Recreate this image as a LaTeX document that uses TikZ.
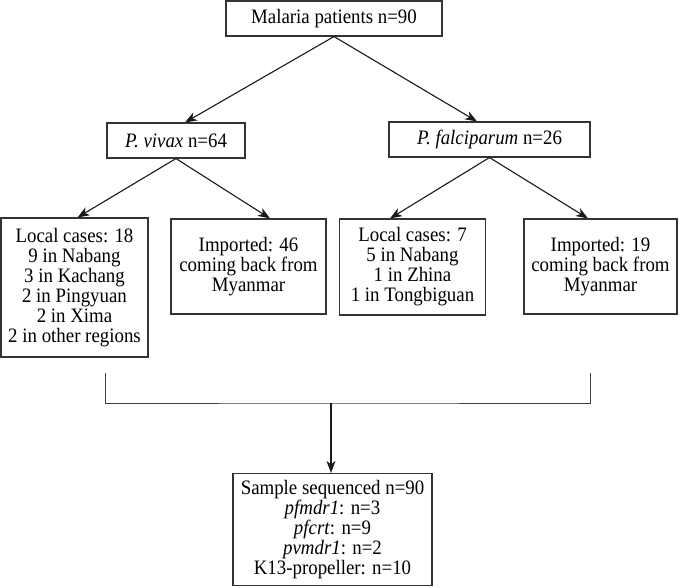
\documentclass[tikz,border=0pt]{standalone}
\usepackage{fontspec}
\setmainfont{Liberation Serif}
\newfontfamily\flowfont{Liberation Serif}[FakeStretch=0.92]
\usetikzlibrary{positioning,arrows.meta}

\begin{document}
\begin{tikzpicture}[
    x=1pt, y=-1pt,
    font=\flowfont\fontsize{20.5}{20}\selectfont,
    >={Stealth[length=12pt,width=9pt,inset=3.5pt]},
    flowbox/.style={
        draw=black!80,
        fill=white,
        align=center,
        inner sep=2pt,
        line width=1.1pt
    },
    flowarrow/.style={->, line width=1.1pt, draw=black!90},
    joinline/.style={line width=1pt, draw=black!75}
]

    \useasboundingbox (0,0) rectangle (680,587);

    \node[flowbox, minimum width=216pt, minimum height=35pt] (patients) at (334,18.5)
        {Malaria patients n=90};

    \node[flowbox, minimum width=138pt, minimum height=35pt] (vivax) at (176,140.5)
        {\textit{P. vivax} n=64};
    \node[flowbox, minimum width=201pt, minimum height=35pt] (falci) at (489.5,139.5)
        {\textit{P. falciparum} n=26};

    \node[flowbox, minimum width=147pt, minimum height=139pt] (vivlocal) at (74.5,287.5)
        {Local cases: 18\\
         9 in Nabang\\
         3 in Kachang\\
         2 in Pingyuan\\
         2 in Xima\\
         2 in other regions};
    \node[flowbox, minimum width=155pt, minimum height=95pt] (vivimport) at (248.5,266.5)
        {Imported: 46\\
         coming back from\\
         Myanmar};
    \node[flowbox, minimum width=146pt, minimum height=96pt] (falclocal) at (412.5,267)
        {Local cases: 7\\
         5 in Nabang\\
         1 in Zhina\\
         1 in Tongbiguan};
    \node[flowbox, minimum width=153pt, minimum height=95pt] (falcimport) at (600.5,266.5)
        {Imported: 19\\
         coming back from\\
         Myanmar};

    \node[flowbox, minimum width=199pt, minimum height=112pt] (sequenced) at (332.5,529.5)
        {Sample sequenced n=90\\
         \textit{pfmdr1}: n=3\\
         \textit{pfcrt}: n=9\\
         \textit{pvmdr1}: n=2\\
         K13-propeller: n=10};

    \draw[flowarrow] (patients.south) -- ([xshift=9pt]vivax.north);
    \draw[flowarrow] (patients.south) -- ([xshift=-12.5pt]falci.north);

    \draw[flowarrow] (vivax.south) -- ([xshift=3pt]vivlocal.north);
    \draw[flowarrow] (vivax.south) -- ([xshift=21.5pt]vivimport.north);
    \draw[flowarrow] (falci.south) -- ([xshift=-22.5pt]falclocal.north);
    \draw[flowarrow] (falci.south) -- ([xshift=-12.5pt]falcimport.north);

    \coordinate (tickleft) at (105,373);
    \coordinate (tickright) at (590,373);
    \coordinate (merge) at (331,403);

    \draw[joinline] (tickleft) |- (merge) -| (tickright);
    \draw[flowarrow] (merge) -- (merge |- sequenced.north);

\end{tikzpicture}
\end{document}
